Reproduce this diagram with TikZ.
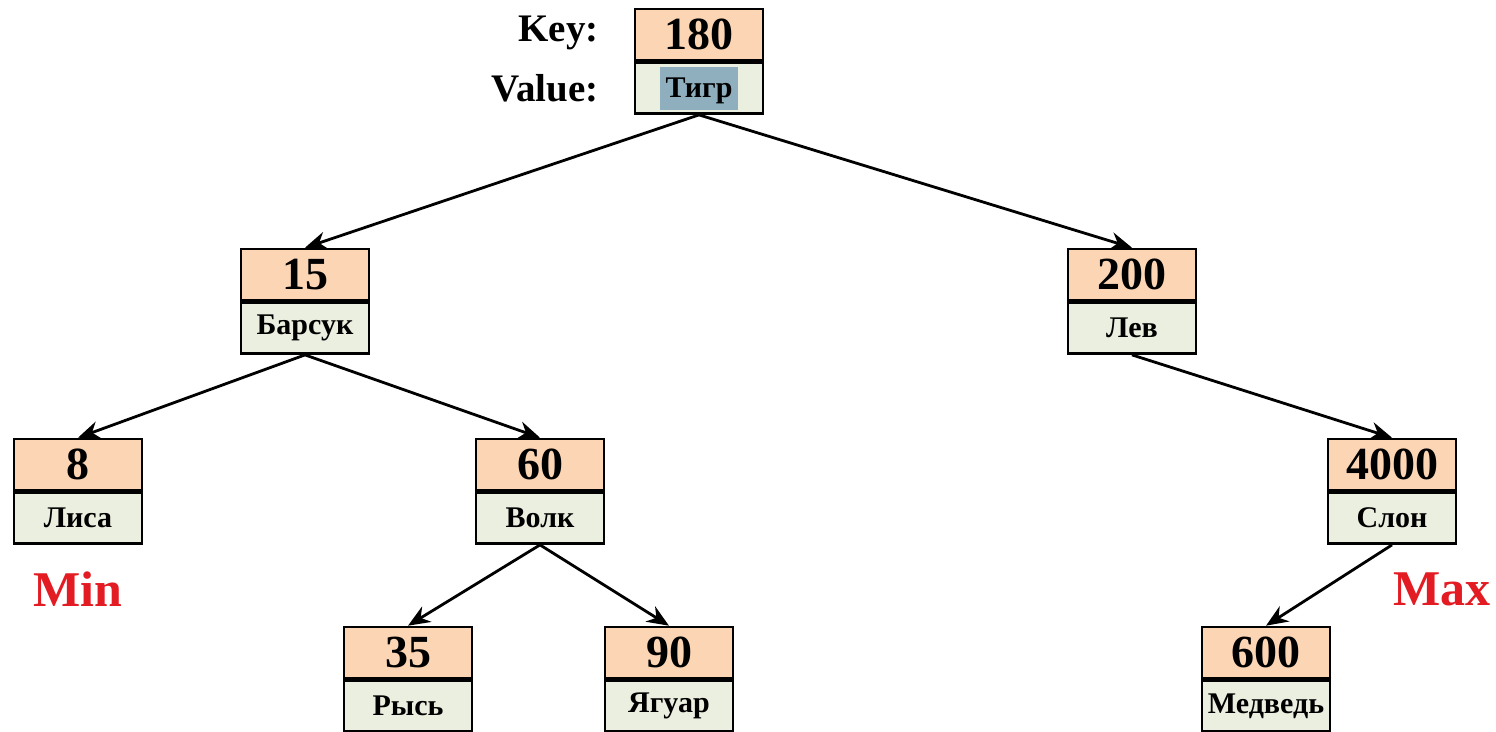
\documentclass[tikz,border=0pt]{standalone}
\usepackage{fontspec}
\setmainfont{Liberation Serif}
\usetikzlibrary{arrows.meta}
\definecolor{keyfill}{HTML}{FCD5B5}
\definecolor{valfill}{HTML}{EBEFDF}
\definecolor{hl}{HTML}{8FAFBF}
\definecolor{mred}{HTML}{E31B23}
\begin{document}
\begin{tikzpicture}[x=0.5pt,y=-0.5pt,
  keybox/.style={draw=black,line width=1.3pt,fill=keyfill,minimum width=64pt,minimum height=25.5pt,inner sep=0pt,font=\fontsize{23}{23}\selectfont\bfseries},
  valbox/.style={draw=black,line width=1.3pt,fill=valfill,minimum width=64pt,minimum height=25.5pt,inner sep=0pt,font=\fontsize{15}{15}\selectfont\bfseries},
  lbl/.style={font=\fontsize{19.5}{19.5}\selectfont\bfseries,anchor=east,inner sep=0pt},
  mm/.style={font=\fontsize{25}{25}\selectfont\bfseries,text=mred,inner sep=0pt},
  edge/.style={-{Stealth[length=11pt,width=9pt]},line width=1.4pt}]
\useasboundingbox (0,0) rectangle (1496,732);
\newcommand{\tnode}[4]{%
  \node[keybox] (k#1) at (#2,#3) {#1};
  \node[valbox,anchor=north] (v#1) at (k#1.south) {#4};}
\tnode{180}{699}{34.5}{\colorbox{hl}{\rule[-0.3ex]{0pt}{2.1ex}Тигр}}
\tnode{15}{305}{274.5}{Барсук}
\tnode{200}{1132}{274.5}{Лев}
\tnode{8}{78}{464.5}{Лиса}
\tnode{60}{540}{464.5}{Волк}
\tnode{4000}{1392}{464.5}{Слон}
\tnode{35}{408}{652.5}{Рысь}
\tnode{90}{669}{652.5}{Ягуар}
\tnode{600}{1266}{652.5}{Медведь}
\node[lbl] (key) at (599,33) {Key:};
\node[lbl] (value) at (599,88) {Value:};
\node[mm] (min) at (78,589) {Min};
\node[mm] (max) at (1442,589) {Max};
\draw[edge] (v180.south) -- (k15.north);
\draw[edge] (v180.south) -- (k200.north);
\draw[edge] (v15.south) -- (k8.north);
\draw[edge] (v15.south) -- (k60.north);
\draw[edge] (v200.south) -- (k4000.north);
\draw[edge] (v60.south) -- (k35.north);
\draw[edge] (v60.south) -- (k90.north);
\draw[edge] (v4000.south) -- (k600.north);
\end{tikzpicture}
\end{document}
